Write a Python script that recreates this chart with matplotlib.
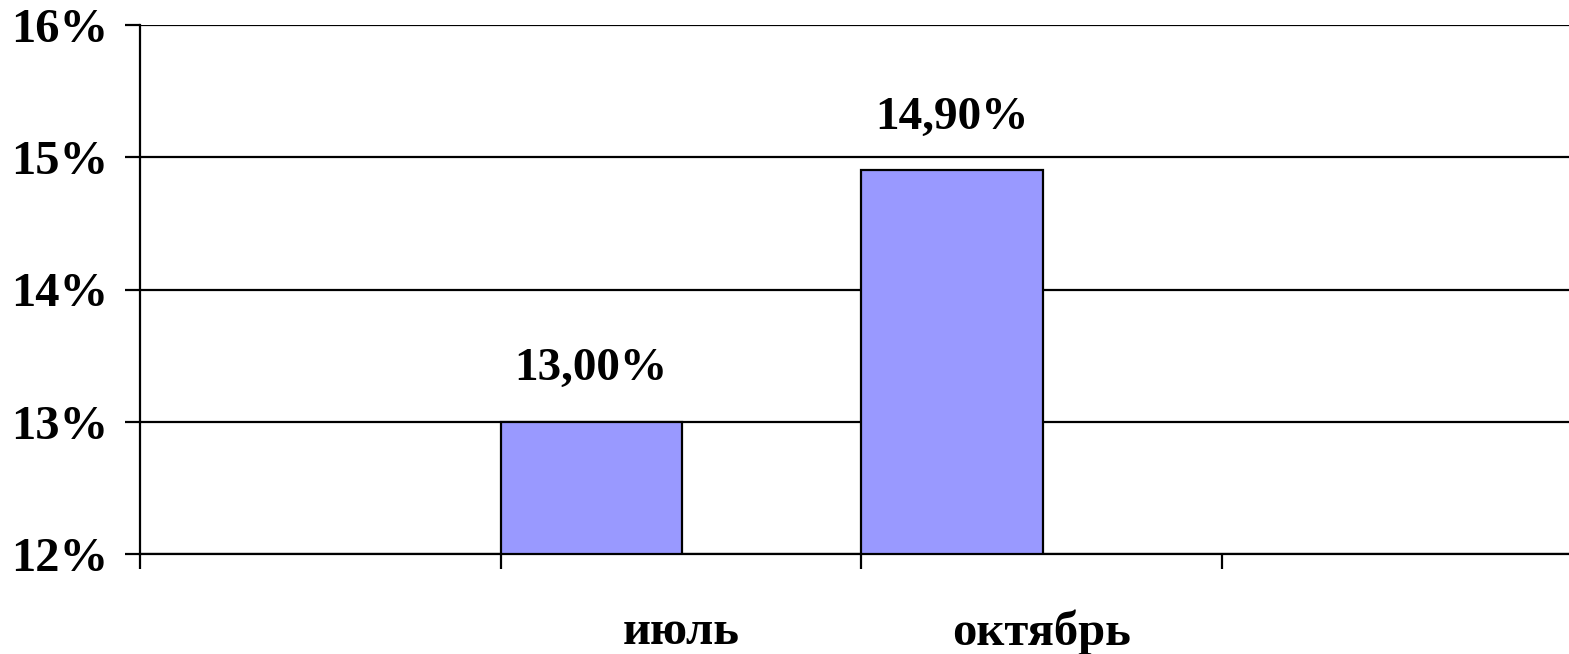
import matplotlib
matplotlib.use("Agg")
import matplotlib.pyplot as plt

months = ["июль", "октябрь"]
values = [13.00, 14.90]
value_labels = ["13,00%", "14,90%"]
slots = [1, 2]
y_ticks = [12, 13, 14, 15, 16]

plt.rcParams["font.family"] = ["Liberation Serif", "DejaVu Serif"]
plt.rcParams["font.weight"] = "bold"

fig = plt.figure(figsize=(15.69, 6.54), dpi=100)
ax = fig.add_axes([140 / 1569, 1 - 554 / 654, 1 - 140 / 1569 + 0.002, (554 - 25) / 654])

ax.bar(slots, [v - 12 for v in values], bottom=12, width=0.503, align="edge",
       color="#9999ff", edgecolor="black", linewidth=1.6, zorder=3)
for s, v, t in zip(slots, values, value_labels):
    ax.annotate(t, (s + 0.25, v), xytext=(0, 23), textcoords="offset points",
                ha="center", va="bottom", fontsize=34, fontweight="bold")

ax.set_ylim(12, 16)
ax.set_xlim(0, 3.97)
ax.set_yticks(y_ticks)
ax.set_yticklabels([f"{t}%" for t in y_ticks], fontsize=35, fontweight="bold")
ax.yaxis.grid(True, color="black", linewidth=1.6, zorder=1)

ax.set_xticks([0, 1, 2, 3])
ax.set_xticklabels([])
ax.set_xticks([s + 0.5 for s in slots], minor=True)
ax.set_xticklabels(months, minor=True, fontsize=35, fontweight="bold")
ax.tick_params(axis="x", which="minor", length=0, pad=40)
ax.tick_params(axis="x", which="major", length=11, width=1.6, direction="out")
ax.tick_params(axis="y", length=11, width=1.6, pad=12)

for side in ["top", "right"]:
    ax.spines[side].set_visible(False)
ax.spines["left"].set_linewidth(1.6)
ax.spines["bottom"].set_linewidth(1.6)

fig.savefig("out.png", dpi=100, facecolor="white")
